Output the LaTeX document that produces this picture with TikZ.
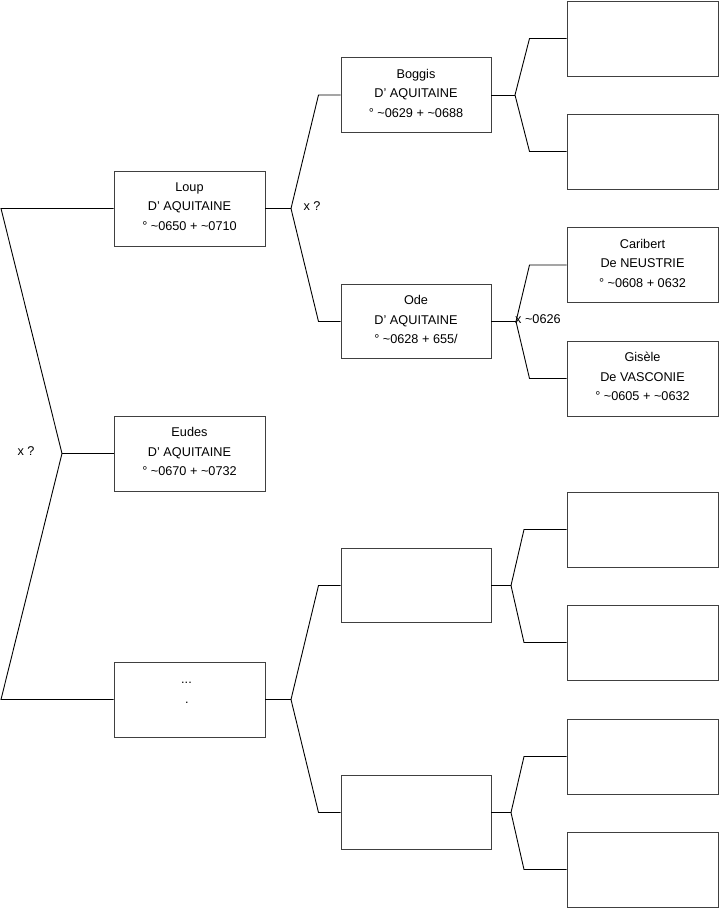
\documentclass[tikz,border=0pt]{standalone}
\usepackage{fontspec}
\setmainfont{Liberation Sans}
\newcommand\tld{\textasciitilde}
\begin{document}
\begin{tikzpicture}[x=1pt,y=-1pt,
  pbox/.style={draw=black!75, line width=0.9pt, fill=white, inner sep=0pt},
  txt/.style={inner sep=0pt, align=center, font=\fontsize{12.7}{19.5}\selectfont},
  wA/.style={minimum width=151pt, minimum height=75pt},
  wB/.style={minimum width=150pt, minimum height=74.5pt},
  conn/.style={draw=black, line width=0.9pt},
  lab/.style={font=\fontsize{12.7}{15}\selectfont, inner sep=0pt}]
\useasboundingbox (0,0) rectangle (719,908);
% level 1
\node[pbox,wA] (loup) at (189.5,208.5) {};
\node[pbox,wA] (eudes) at (189.5,453.5) {};
\node[pbox,wA] (dots) at (189.5,699.5) {};
% level 2
\node[pbox,wB] (boggis) at (416,95) {};
\node[pbox,wB] (ode) at (416,321.5) {};
\node[pbox,wB] (e1) at (416,585.5) {};
\node[pbox,wB] (e2) at (416,812.5) {};
% level 3
\node[pbox,wA] (b1) at (642.5,38.5) {};
\node[pbox,wA] (b2) at (642.5,151.5) {};
\node[pbox,wA] (carib) at (642.5,265) {};
\node[pbox,wA] (gisele) at (642.5,378.5) {};
\node[pbox,wA] (c1) at (642.5,529.5) {};
\node[pbox,wA] (c2) at (642.5,642.5) {};
\node[pbox,wA] (c3) at (642.5,756.5) {};
\node[pbox,wA] (c4) at (642.5,869.5) {};
% texts
\node[txt] (loupT) at ([yshift=2pt]loup.center) {Loup\\D' AQUITAINE\\° \tld0650 + \tld0710};
\node[txt] (eudesT) at ([yshift=2pt]eudes.center) {Eudes\\D' AQUITAINE\\° \tld0670 + \tld0732};
\node[lab, anchor=base] (dotsA) at (186.5,683) {...};
\node[lab, anchor=base] (dotsB) at (187,703) {.};
\node[txt] (boggisT) at ([yshift=2pt]boggis.center) {Boggis\\D' AQUITAINE\\° \tld0629 + \tld0688};
\node[txt] (odeT) at ([yshift=2pt]ode.center) {Ode\\D' AQUITAINE\\° \tld0628 + 655/};
\node[txt] (caribT) at ([yshift=2pt]carib.center) {Caribert\\De NEUSTRIE\\° \tld0608 + 0632};
\node[txt] (giseleT) at ([yshift=2pt]gisele.center) {Gisèle\\De VASCONIE\\° \tld0605 + \tld0632};
% coordinates
\coordinate (lt) at (1,208.5);
\coordinate (lb) at (1,699.5);
\coordinate (la) at (62,453.5);
\coordinate (ma) at (291,208.5);
\coordinate (mt) at (318.5,95);
\coordinate (mb) at (318.5,321.5);
\coordinate (na) at (291,699.5);
\coordinate (nt) at (318.5,585.5);
\coordinate (nb) at (318.5,812.5);
\coordinate (ba) at (515,95);
\coordinate (bt) at (529.5,38.5);
\coordinate (bb) at (529.5,151.5);
\coordinate (oa) at (516,321.5);
\coordinate (ot) at (529.5,265);
\coordinate (ob) at (529.5,378.5);
\coordinate (pa) at (511,585.5);
\coordinate (pt) at (524,529.5);
\coordinate (pb) at (524,642.5);
\coordinate (qa) at (511,812.5);
\coordinate (qt) at (524,756.5);
\coordinate (qb) at (524,869.5);
% connectors
\path[conn] (loup.west) -- (lt) -- (la) -- (lb) -- (dots.west);
\path[conn] (la) -- (eudes.west);
\path[conn] (boggis.west) -- (mt) -- (ma) -- (mb) -- (ode.west);
\path[conn] (ma) -- (loup.east);
\path[conn] (e1.west) -- (nt) -- (na) -- (nb) -- (e2.west);
\path[conn] (na) -- (dots.east);
\path[conn] (b1.west) -- (bt) -- (ba) -- (bb) -- (b2.west);
\path[conn] (ba) -- (boggis.east);
\path[conn] (carib.west) -- (ot) -- (oa) -- (ob) -- (gisele.west);
\path[conn] (oa) -- (ode.east);
\path[conn] (c1.west) -- (pt) -- (pa) -- (pb) -- (c2.west);
\path[conn] (pa) -- (e1.east);
\path[conn] (c3.west) -- (qt) -- (qa) -- (qb) -- (c4.west);
\path[conn] (qa) -- (e2.east);
% labels
\node[lab] (l1) at (26,451) {x ?};
\node[lab] (l2) at (312,206) {x ?};
\node[lab, anchor=west] (l3) at (515,319) {x \tld0626};
\end{tikzpicture}
\end{document}
